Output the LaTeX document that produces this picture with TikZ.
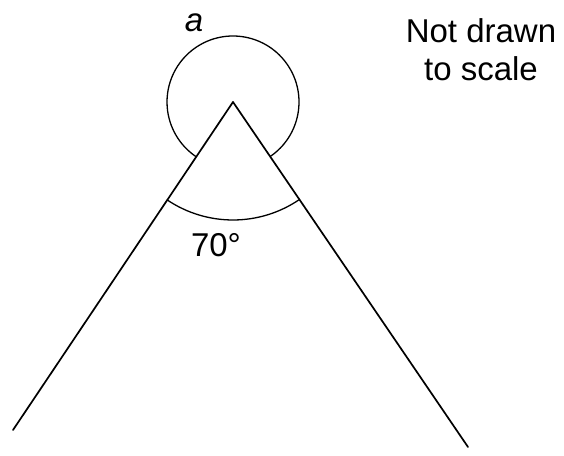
\documentclass[tikz,border=0pt]{standalone}
\usepackage{fontspec}
\setmainfont{Liberation Sans}
\usepackage{tikz}
\usetikzlibrary{calc, positioning}
\tikzstyle{side} = [line width=1.7pt, line cap=round]
\tikzstyle{anglearc} = [line width=1.3pt]
\tikzstyle{anglelabel} = [font=\fontsize{33}{38}\selectfont, inner sep=0pt]
\tikzstyle{note} = [font=\fontsize{33}{38}\selectfont, align=center, inner sep=0pt]

\begin{document}
\begin{tikzpicture}[x=1pt, y=1pt]
            \useasboundingbox (0,0) rectangle (564,455);
            \coordinate (apex) at (233,353);
            \coordinate (leftend) at (13,25);
            \coordinate (rightend) at (468,8);

            \draw [side] (apex) -- (leftend);
            \draw [side] (apex) -- (rightend);

            \draw [anglearc] ($(apex)+(304.26:66)$) arc[start angle=304.26, end angle=596.15, radius=66];
            \draw [anglearc] ($(apex)+(236.15:118)$) arc[start angle=236.15, end angle=304.26, radius=118];

            \node (reflex) [anglelabel] at (194,432) {\itshape a};
            \node (given) [anglelabel] at (216,210) {70°};
            \node (scalenote) [note] at (481,405) {Not drawn\\to scale};
        \end{tikzpicture}
\end{document}
